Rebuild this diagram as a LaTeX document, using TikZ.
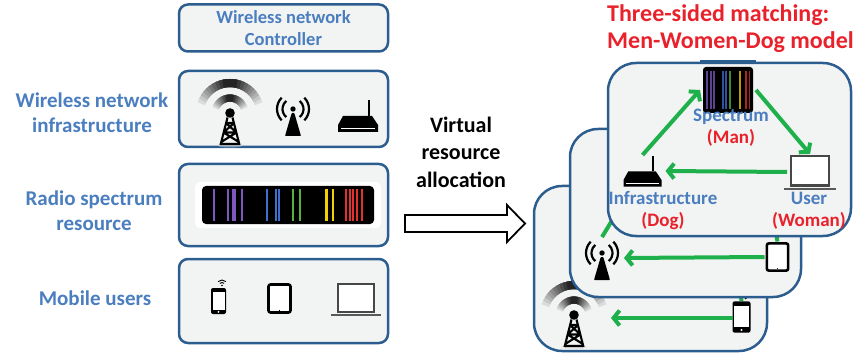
\documentclass[tikz,border=0pt]{standalone}
\usepackage{fontspec}
\setmainfont{Carlito}
\usetikzlibrary{arrows.meta}
\definecolor{boxblue}{HTML}{2C5D8F}
\definecolor{boxfill}{HTML}{F2F3F3}
\definecolor{labelblue}{HTML}{4A7EBF}
\definecolor{titlered}{HTML}{E8212B}
\definecolor{linkgreen}{HTML}{1EB04B}
\definecolor{specpurple}{HTML}{7E57C2}
\definecolor{specblue}{HTML}{3F6FD0}
\definecolor{specgreen}{HTML}{5BB03B}
\definecolor{specyellow}{HTML}{F5D000}
\definecolor{specred}{HTML}{E53030}

\tikzset{
  panel/.style={draw=boxblue, line width=2.5pt, fill=boxfill, rounded corners=9pt, inner sep=0pt},
  layer/.style={draw=boxblue, line width=2.5pt, fill=boxfill, rounded corners=28pt, inner sep=0pt},
  iconslot/.style={inner sep=0pt, outer sep=0pt},
  sidelabel/.style={text=labelblue, font=\bfseries\fontsize{21}{25}\selectfont, align=center},
  ctrllabel/.style={text=labelblue, font=\bfseries\fontsize{18.5}{22}\selectfont, align=center},
  roleslabel/.style={font=\bfseries\fontsize{19}{22}\selectfont, align=center},
  link/.style={draw=linkgreen, line width=4pt, -{Straight Barb[length=6pt,width=15pt]}},
  linkstub/.style={draw=linkgreen, line width=4pt},
  % radio tower with fading waves, origin at the top dot
  pics/celltower/.style={code={
    \fill[gray!30, opacity=0.5] (0,32) ellipse (13 and 2.5);
    \foreach \r/\w in {30/8,15/7}{
      \foreach \k in {0,...,9}{
        \pgfmathsetmacro{\half}{72-6.5*\k}
        \pgfmathsetmacro{\shade}{14+8*\k}
        \draw[black!\shade, line width=\w pt] (270-\half:\r) arc (270-\half:270+\half:\r);
      }
    }
    \fill (0,0) circle (4.8);
    \draw[line width=2.1pt, line join=round]
      (-2.5,4.5) -- (-9.5,32) (2.5,4.5) -- (9.5,32)
      (-4,10) -- (4,10) (-4,10) -- (6.4,19.5) (4,10) -- (-6.4,19.5)
      (-6.4,19.5) -- (6.4,19.5) (-6.4,19.5) -- (8.8,29) (6.4,19.5) -- (-8.8,29)
      (-9.5,31) -- (9.5,31);
  }},
  % access point antenna, origin at the dot
  pics/apicon/.style={code={
    \fill (0,0) circle (2.7);
    \fill[rounded corners=0.8pt] (-1.3,4) -- (1.3,4) -- (8,27) -- (-8,27) -- cycle;
    \draw[line width=2.2pt] (130:10.5) arc (130:230:10.5) (50:10.5) arc (50:-50:10.5)
      (135:16) arc (135:225:16) (45:16) arc (45:-45:16);
  }},
  % router, origin at the body centre
  pics/routericon/.style={code={
    \fill (-15,-8) -- (14,-8) -- (20,1) -- (20,8) -- (-20,8) -- (-20,1) -- cycle;
    \draw[white, line width=0.8pt] (-17,4.5) -- (17,4.5);
    \draw[line width=1.6pt] (11,-8) -- (11,-24);
  }},
  pics/phoneicon/.style={code={
    \fill[rounded corners=2pt] (-7.5,-13) rectangle (7.5,13);
    \fill[white] (-6,-9.5) rectangle (6,8.5);
    \fill[white] (0,10.8) circle (1);
    \fill (3.5,-15.5) circle (0.9);
    \draw[line width=0.9pt] (3.5,-15.5) ++(225:3) arc (225:315:3);
    \draw[line width=0.9pt] (3.5,-15.5) ++(225:5.5) arc (225:315:5.5);
  }},
  pics/tableticon/.style={code={
    \draw[line width=2.6pt, rounded corners=2pt, fill=white] (-11,-14) rectangle (11,14);
    \fill (0,12) circle (0.6);
  }},
  pics/laptopicon/.style={code={
    \draw[line width=2.4pt, draw=black!72, fill=white] (-18,-14) rectangle (18,14);
    \draw[line width=2.2pt, black!65] (-25,17) -- (25,17);
  }},
  % wide spectrum strip, unit square scaled by the caller
  pics/spectrumwide/.style={code={
    \fill[black, rounded corners=4pt] (-0.5,-0.5) rectangle (0.5,0.5);
    \foreach \p/\c in {0.07/specpurple,0.15/specpurple,0.18/specpurple,0.19/specpurple,0.23/specpurple,
                       0.38/specblue,0.43/specblue,0.45/specblue,0.53/specgreen,0.57/specgreen,
                       0.72/specyellow,0.725/specyellow,0.76/specyellow,
                       0.84/specred,0.86/specred,0.875/specred,0.90/specred,0.93/specred}
      \draw[\c, line width=2pt] (\p-0.5,-0.41) -- (\p-0.5,0.41);
  }},
  pics/spectrumtile/.style={code={
    \fill[black, rounded corners=3pt] (-0.5,-0.5) rectangle (0.5,0.5);
    \foreach \p/\c in {0.08/specpurple,0.16/specpurple,0.22/specpurple,0.40/specblue,0.46/specblue,
                       0.54/specgreen,0.74/specyellow,0.86/specred,0.93/specred}
      \draw[\c!75!black, line width=1.3pt] (\p-0.5,-0.42) -- (\p-0.5,0.42);
  }},
}

\begin{document}
\begin{tikzpicture}[x=1pt,y=-1pt]
\useasboundingbox (0,0) rectangle (859,358);

% ---- resource layers on the left
\node[panel, minimum width=209, minimum height=47, ctrllabel] (ctrl) at (283.5,28) {Wireless network\\Controller};
\node[panel, minimum width=209, minimum height=76] (infra) at (283.5,109) {};
\node[panel, minimum width=209, minimum height=82] (radio) at (283.5,205) {};
\node[panel, minimum width=209, minimum height=84] (users) at (283.5,301) {};

\node[sidelabel] (lblinfra) at (92,112.5) {Wireless network\\infrastructure};
\node[sidelabel] (lblradio) at (94,210.5) {Radio spectrum\\resource};
\node[sidelabel] (lblusers) at (95,298) {Mobile users};

% infrastructure icons
\node[iconslot, minimum width=70, minimum height=70] (tw1) at (230,113) {};
\pic at (tw1) {celltower};
\node[iconslot, minimum width=36, minimum height=44] (ap1) at (293,116) {};
\pic at (293,109) {apicon};
\node[iconslot, minimum width=40, minimum height=34] (rt1l) at (358,116) {};
\pic at (358,124) {routericon};

% spectrum strip
\node[iconslot, minimum width=172, minimum height=38] (bar1) at (288,205) {};
\fill[white, rounded corners=5pt] (195,182) rectangle (381,228);
\pic[xscale=172, yscale=38] at (bar1) {spectrumwide};

% user devices
\node[iconslot, minimum width=15, minimum height=32] (ph1) at (218.5,298) {};
\pic at (218.5,301) {phoneicon};
\node[iconslot, minimum width=25, minimum height=31] (tab1) at (279.5,298.5) {};
\pic at (tab1) {tableticon};
\node[iconslot, minimum width=50, minimum height=34] (lap1l) at (355,300) {};
\pic at (356,298) {laptopicon};

% ---- virtual resource allocation
\node[font=\bfseries\fontsize{22}{27.5}\selectfont, align=center] (alloctext) at (461,152) {Virtual\\resource\\allocation};
\coordinate (allocbase) at (405,223.5);
\draw[line width=1.8pt, fill=white, line join=miter]
  (allocbase) ++(0,-8.5) -- ++(102,0) -- ++(0,-10) -- ++(18,18.5) -- ++(-18,18.5) -- ++(0,-10) -- ++(-102,0) -- cycle;

% ---- back layer
\node[layer, minimum width=233, minimum height=165] (back) at (650.5,268.5) {};
\node[iconslot, minimum width=70, minimum height=70] (tw3) at (574,318) {};
\pic at (574,315) {celltower};
\node[iconslot, minimum width=18, minimum height=34] (ph3) at (741.5,318) {};
\pic[scale=1.2] at (741.5,317) {phoneicon};
\coordinate (hid3) at (735,255);
\draw[linkstub] (ph3.north) -- (hid3);
\draw[link] (ph3.west) -- ([xshift=2pt]tw3.east);

% ---- middle layer
\node[layer, minimum width=231, minimum height=168] (mid) at (685.5,213) {};
\node[iconslot, minimum width=40, minimum height=42] (ap2) at (602,258) {};
\pic at (602,253) {apicon};
\node[iconslot, minimum width=24, minimum height=31] (tab2) at (777.5,257) {};
\pic[scale=0.97] at (tab2) {tableticon};
\coordinate (hid2a) at (661,140);
\coordinate (hid2b) at (770,200);
\draw[linkstub] (ap2.north) -- (hid2a);
\draw[linkstub] (tab2.north) -- (hid2b);
\draw[link] ([xshift=-1pt]tab2.west) -- ([xshift=2pt]ap2.east);

% ---- front layer: the three-sided matching
\node[layer, minimum width=243, minimum height=173] (front) at (729.5,149.5) {};
\node[iconslot, minimum width=50, minimum height=46] (spec1) at (728,90) {};
\draw[boxblue, line width=4pt] (front.north -| spec1.west) ++(-3,0) -- ([xshift=3pt]front.north -| spec1.east);
\pic[xscale=50, yscale=46] at (spec1) {spectrumtile};
\node[iconslot, minimum width=40, minimum height=32] (rt1) at (642.5,171) {};
\pic[scale=0.95] at (642.5,179) {routericon};
\node[iconslot, minimum width=40, minimum height=30] (lap1) at (810,172) {};
\pic[scale=1.05] at (810,171) {laptopicon};

\node[roleslabel] (specrole) at (731,128) {\textcolor{labelblue}{Spectrum}\\\textcolor{titlered}{(Man)}};
\node[roleslabel] (infrarole) at (663,211) {\textcolor{labelblue}{Infrastructure}\\\textcolor{titlered}{(Dog)}};
\node[roleslabel] (userrole) at (809,211) {\textcolor{labelblue}{User}\\\textcolor{titlered}{(Woman)}};

\draw[link] (rt1.north) -- ([xshift=-3pt]spec1.west);
\draw[link] ([xshift=3pt]spec1.east) -- ([yshift=3pt]lap1.north);
\draw[link] ([xshift=-3pt]lap1.west) -- ([xshift=3pt]rt1.east);

% ---- title
\node[anchor=west, text=titlered, font=\bfseries\fontsize{24}{27}\selectfont, align=left, inner sep=0pt] (title) at (607,28.5) {Three-sided matching:\\Men-Women-Dog model};
\end{tikzpicture}
\end{document}
